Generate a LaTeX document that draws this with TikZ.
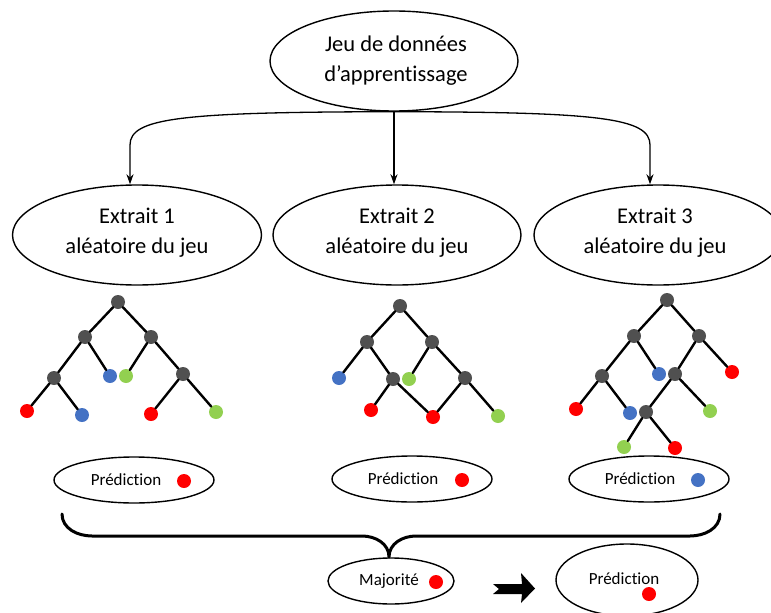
\documentclass[tikz,border=0pt]{standalone}
\usepackage{fontspec}
\setmainfont{Carlito}[Ligatures=NoCommon]
\usetikzlibrary{shapes.geometric, arrows.meta}
\definecolor{gris}{HTML}{505050}
\definecolor{rouge}{HTML}{FF0000}
\definecolor{bleu}{HTML}{4472C4}
\definecolor{vert}{HTML}{92D050}
\begin{document}
\begin{tikzpicture}[x=1pt, y=-1pt, line join=round, line cap=round,
	>={Stealth[length=10pt, width=7pt]},
	ell/.style={draw, ellipse, line width=1.4pt, inner sep=0pt},
	grand/.style={font=\fontsize{22.5}{30}\selectfont, align=center},
	petit/.style={font=\fontsize{17}{20}\selectfont},
	gr/.style={circle, fill=gris, inner sep=0pt, minimum size=14pt},
	rd/.style={gr, fill=rouge},
	bl/.style={gr, fill=bleu},
	gn/.style={gr, fill=vert},
	arete/.style={line width=2.4pt}]
	\useasboundingbox (0,0) rectangle (771,613);
	
	% Jeu de données et extraits
	\node[ell, minimum width=248pt, minimum height=100pt] (data) at (394,61) {};
	\node[grand] (tdata) at (396,61) {Jeu de données\\d’apprentissage};
	\node[ell, minimum width=249pt, minimum height=100pt] (ex1) at (137,235) {};
	\node[ell, minimum width=248pt, minimum height=100pt] (ex2) at (397,235) {};
	\node[ell, minimum width=248pt, minimum height=100pt] (ex3) at (658,235) {};
	\node[grand] (tex1) at (137,233) {Extrait 1\\aléatoire du jeu};
	\node[grand] (tex2) at (397,233) {Extrait 2\\aléatoire du jeu};
	\node[grand] (tex3) at (655,233) {Extrait 3\\aléatoire du jeu};
	
	% Flèches
	\coordinate (k1) at (130,145);
	\coordinate (k3) at (650,145);
	\draw[line width=1.3pt, ->] (data.south) .. controls (180,112) and (130,118) .. (k1) -- (k1 |- ex1.north);
	\draw[line width=1.3pt, ->] (data.south) .. controls (600,112) and (650,118) .. (k3) -- (k3 |- ex3.north);
	\draw[line width=1.3pt, ->] (data.south) -- (data.south |- ex2.north);
	
	% Arbre 1
	\node[gr] (t1r) at (118,302) {};
	\node[gr] (t1a) at (85,337) {};
	\node[gr] (t1b) at (151,337) {};
	\node[gr] (t1c) at (54,378) {};
	\node[bl] (t1d) at (110,376) {};
	\node[gn] (t1e) at (126,376) {};
	\node[gr] (t1f) at (183,374) {};
	\node[rd] (t1g) at (27,411) {};
	\node[bl] (t1h) at (82,415) {};
	\node[rd] (t1i) at (151,414) {};
	\node[gn] (t1j) at (216,412) {};
	\draw[arete] (t1r) -- (t1a) (t1r) -- (t1b) (t1a) -- (t1c) (t1a) -- (t1d)
		(t1b) -- (t1e) (t1b) -- (t1f) (t1c) -- (t1g) (t1c) -- (t1h)
		(t1f) -- (t1i) (t1f) -- (t1j);
	
	% Arbre 2
	\node[gr] (t2r) at (400,306) {};
	\node[gr] (t2a) at (367,342) {};
	\node[gr] (t2b) at (432,342) {};
	\node[bl] (t2c) at (339,378) {};
	\node[gr] (t2d) at (393,379) {};
	\node[gn] (t2e) at (409,379) {};
	\node[gr] (t2f) at (465,378) {};
	\node[rd] (t2g) at (371,410) {};
	\node[rd] (t2h) at (433,417) {};
	\node[gn] (t2i) at (498,416) {};
	\draw[arete] (t2r) -- (t2a) (t2r) -- (t2b) (t2a) -- (t2c) (t2a) -- (t2d)
		(t2d) -- (t2h) (t2b) -- (t2e) (t2b) -- (t2f) (t2d) -- (t2g)
		(t2f) -- (t2h) (t2f) -- (t2i);
	
	% Arbre 3
	\node[gr] (t3r) at (667,300) {};
	\node[gr] (t3a) at (634,336) {};
	\node[gr] (t3b) at (699,336) {};
	\node[gr] (t3c) at (602,376) {};
	\node[bl] (t3d) at (659,374) {};
	\node[gr] (t3e) at (675,374) {};
	\node[rd] (t3f) at (732,372) {};
	\node[rd] (t3g) at (576,409) {};
	\node[bl] (t3h) at (630,413) {};
	\node[gr] (t3i) at (646,412) {};
	\node[gn] (t3j) at (710,411) {};
	\node[gn] (t3k) at (624,447) {};
	\node[rd] (t3l) at (675,448) {};
	\draw[arete] (t3r) -- (t3a) (t3r) -- (t3b) (t3a) -- (t3c) (t3a) -- (t3d)
		(t3b) -- (t3e) (t3b) -- (t3f) (t3c) -- (t3g) (t3c) -- (t3h)
		(t3e) -- (t3i) (t3e) -- (t3j) (t3i) -- (t3k) (t3i) -- (t3l);
	
	% Prédictions
	\node[ell, minimum width=160pt, minimum height=46pt] (pe1) at (134,480) {};
	\node[ell, minimum width=160pt, minimum height=46pt] (pe2) at (412,479) {};
	\node[ell, minimum width=160pt, minimum height=46pt] (pe3) at (649,479) {};
	\node[petit] (pt1) at (126,480) {Prédiction};
	\node[petit] (pt2) at (403,479) {Prédiction};
	\node[petit] (pt3) at (640,479) {Prédiction};
	\node[rd] (pd1) at (184,481) {};
	\node[rd] (pd2) at (462,480) {};
	\node[bl] (pd3) at (698,480) {};
	
	% Accolade
	\draw[line width=3pt] (62,514) to[out=-90, in=180] (92,536) -- (362,536)
		to[out=0, in=90] (389,557) to[out=90, in=180] (416,536) -- (690,536)
		to[out=0, in=-90] (720,514);
	
	% Majorité
	\node[ell, minimum width=126pt, minimum height=46pt] (maj) at (391,581) {};
	\node[petit] (tmaj) at (389,581) {Majorité};
	\node[rd] (dmaj) at (436,582) {};
	\fill (493,584) -- (522,584) -- (521,573) -- (535,588.5) -- (521,603) -- (522,594)
		-- (493,594) -- (499,589) -- cycle;
	
	% Prédiction finale
	\node[ell, minimum width=142pt, minimum height=72pt] (fin) at (627,580) {};
	\node[petit] (tfin) at (624,579) {Prédiction};
	\node[rd] (dfin) at (649,594) {};
\end{tikzpicture}
\end{document}
